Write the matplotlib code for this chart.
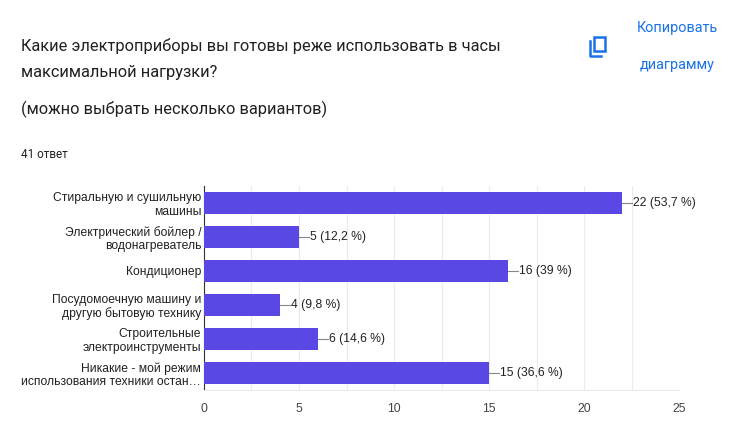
import matplotlib.pyplot as plt
import matplotlib.patches as mpatches

categories = [
    "Стиральную и сушильную\nмашины",
    "Электрический бойлер /\nводонагреватель",
    "Кондиционер",
    "Посудомоечную машину и\nдругую бытовую технику",
    "Строительные\nэлектроинструменты",
    "Никакие - мой режим\nиспользования техники остан…",
]
counts = [22, 5, 16, 4, 6, 15]
percents = ["53,7", "12,2", "39", "9,8", "14,6", "36,6"]
xticks = [0, 5, 10, 15, 20, 25]

W, H = 752, 445
fig = plt.figure(figsize=(W / 100, H / 100), dpi=100)
fig.patch.set_facecolor("white")

# header texts
title_kw = dict(fontsize=11.8, family="Roboto", color="#202124", va="center")
fig.text(21 / W, 1 - 46 / H, "Какие электроприборы вы готовы реже использовать в часы", **title_kw)
fig.text(21 / W, 1 - 72 / H, "максимальной нагрузки?", **title_kw)
fig.text(21 / W, 1 - 109 / H, "(можно выбрать несколько вариантов)", **title_kw)
fig.text(21 / W, 1 - 155 / H, "41 ответ", fontsize=8.5, family="Roboto",
         color="#202124", va="center")
fig.text(677 / W, 1 - 28 / H, "Копировать", fontsize=10.4, family="Roboto",
         color="#1a73e8", ha="center", va="center")
fig.text(677 / W, 1 - 65 / H, "диаграмму", fontsize=10.4, family="Roboto",
         color="#1a73e8", ha="center", va="center")

# copy icon
blue = "#1a73e8"
fig.patches.append(mpatches.Rectangle((594 / W, 1 - 51 / H), 11 / W, 14 / H, fill=False,
                                      edgecolor=blue, linewidth=1.8,
                                      transform=fig.transFigure, figure=fig))
fig.add_artist(plt.Line2D([590 / W, 590 / W, 601 / W], [1 - 41 / H, 1 - 56 / H, 1 - 56 / H],
                          color=blue, linewidth=1.8, transform=fig.transFigure))

ax = fig.add_axes([204 / W, 1 - 390 / H, 475 / W, 204 / H])
ypos = list(range(len(categories)))
ax.barh(ypos, counts, height=0.65, color="#5a48e4", zorder=3)
ax.set_ylim(len(categories) - 0.5, -0.5)
ax.set_xlim(0, 25)
ax.set_xticks(xticks)
ax.set_xticks([2.5, 7.5, 12.5, 17.5, 22.5], minor=True)
ax.set_xticklabels([str(t) for t in xticks], fontsize=8.7, family="Liberation Sans", color="#444444")
ax.set_yticks(ypos)
ax.set_yticklabels(categories, fontsize=8.7, family="Liberation Sans", color="#222222",
                   linespacing=1.15)
ax.tick_params(axis="both", which="both", length=0)
ax.tick_params(axis="x", pad=9)
ax.tick_params(axis="y", pad=2)
ax.grid(axis="x", which="both", color="#ebebeb", linewidth=0.8, zorder=0)
for s in ["top", "right"]:
    ax.spines[s].set_visible(False)
ax.spines["left"].set_color("#333333")
ax.spines["bottom"].set_color("#ebebeb")

for y, c, p in zip(ypos, counts, percents):
    ax.plot([c, c + 0.55], [y, y], color="#888888", linewidth=0.8, zorder=4)
    ax.text(c + 0.6, y, f"{c} ({p} %)", fontsize=8.7, family="Liberation Sans",
            color="#222222", va="center", ha="left")

fig.savefig("out.png", dpi=100)
